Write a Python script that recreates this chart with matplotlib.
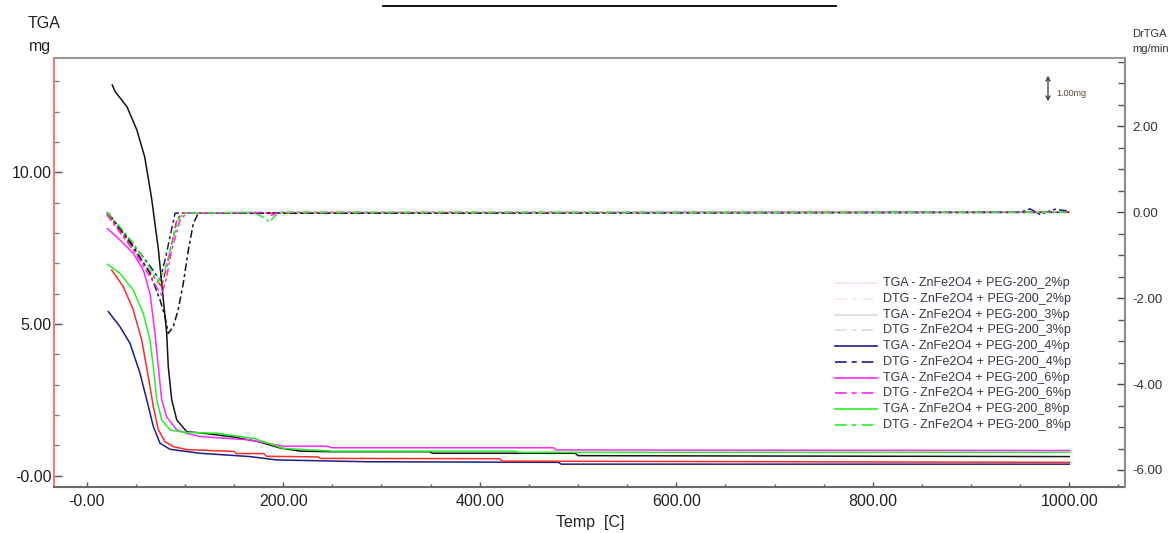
import matplotlib
matplotlib.use("Agg")
import matplotlib.pyplot as plt
from matplotlib.lines import Line2D
from matplotlib.ticker import FixedLocator, MultipleLocator

plt.rcParams['font.family'] = ['Liberation Sans', 'DejaVu Sans']

# ---------------- data (temperature in C, TGA in mg, DTG in mg/min) ----------------
# 3% sample (black)
tga3_t = [26, 29, 41, 51, 59, 66, 73, 78, 81.4, 83, 86.5, 91.6, 101.8, 116, 151, 176, 197, 217, 251, 349, 352, 497, 500, 1000]
tga3_m = [12.88, 12.66, 12.16, 11.40, 10.51, 9.15, 7.44, 5.79, 4.69, 3.59, 2.50, 1.84, 1.45, 1.41, 1.27, 1.11, 0.91, 0.81, 0.79, 0.79, 0.74, 0.74, 0.66, 0.63]
dtg3_t = [22.0, 47.4, 64.4, 74.6, 79.7, 83.0, 88.1, 93.2, 98.3, 103.4, 108.5, 113.6, 1000]
dtg3_v = [-0.02, -0.80, -1.42, -2.04, -2.43, -2.82, -2.66, -2.26, -1.65, -0.88, -0.26, -0.02, 0.0]

# 2% sample (red)
tga2_t = [25.4, 37.2, 47.4, 56.0, 62.7, 67.8, 72.9, 79.7, 88.1, 101.8, 150, 152, 180, 183, 235, 238, 420, 423, 1000]
tga2_m = [6.78, 6.23, 5.46, 4.47, 3.26, 2.27, 1.51, 1.12, 0.96, 0.86, 0.80, 0.73, 0.73, 0.64, 0.62, 0.57, 0.56, 0.48, 0.44]
dtg2_t = [20.4, 47.4, 64.4, 76.3, 83.0, 91.6, 96.7, 1000]
dtg2_v = [-0.03, -0.85, -1.40, -1.73, -1.11, -0.18, -0.02, 0.0]

# 4% sample (navy)
tga4_t = [22.0, 33.9, 44.1, 54.2, 61.1, 67.8, 74.6, 84.8, 115, 166, 193, 285, 480, 483, 1000]
tga4_m = [5.41, 4.91, 4.36, 3.38, 2.50, 1.62, 1.07, 0.87, 0.74, 0.63, 0.52, 0.46, 0.44, 0.38, 0.38]
dtg4_t = [20.4, 47.4, 64.4, 74.6, 79.7, 89.9, 950, 960, 970, 985, 1000]
dtg4_v = [0.0, -0.75, -1.25, -1.58, -1.11, -0.02, 0.0, 0.08, -0.05, 0.07, 0.03]

# 6% sample (magenta)
tga6_t = [21.0, 33.9, 47.4, 57.6, 64.4, 69.5, 72.9, 76.3, 81.4, 91.6, 101.8, 115, 166, 200, 245, 250, 475, 478, 1000]
tga6_m = [8.15, 7.77, 7.33, 6.78, 6.01, 4.69, 3.59, 2.50, 1.94, 1.51, 1.40, 1.29, 1.18, 0.97, 0.97, 0.92, 0.92, 0.85, 0.83]
dtg6_t = [20.4, 47.4, 64.4, 76.3, 81.4, 86.5, 95.0, 101.8, 180, 188, 196, 1000]
dtg6_v = [-0.06, -0.88, -1.50, -1.93, -1.50, -0.88, -0.18, -0.02, 0.0, -0.07, 0.0, 0.0]

# 8% sample (green)
tga8_t = [21.0, 33.9, 47.4, 57.6, 64.4, 67.8, 71.2, 76.3, 84.8, 98.3, 132, 170, 190, 200, 250, 436, 440, 1000]
tga8_m = [6.97, 6.67, 6.12, 5.35, 4.47, 3.59, 2.50, 1.84, 1.51, 1.43, 1.40, 1.23, 1.01, 0.90, 0.81, 0.81, 0.77, 0.77]
dtg8_t = [20.4, 33.9, 47.4, 61.1, 72.9, 79.7, 86.5, 93.2, 98.3, 170, 180, 186, 192, 198, 1000]
dtg8_v = [0.01, -0.34, -0.72, -1.19, -1.62, -1.34, -0.72, -0.18, -0.02, 0.0, -0.12, -0.22, -0.08, 0.0, 0.0]

legend_labels = [
    "TGA - ZnFe2O4 + PEG-200_2%p", "DTG - ZnFe2O4 + PEG-200_2%p",
    "TGA - ZnFe2O4 + PEG-200_3%p", "DTG - ZnFe2O4 + PEG-200_3%p",
    "TGA - ZnFe2O4 + PEG-200_4%p", "DTG - ZnFe2O4 + PEG-200_4%p",
    "TGA - ZnFe2O4 + PEG-200_6%p", "DTG - ZnFe2O4 + PEG-200_6%p",
    "TGA - ZnFe2O4 + PEG-200_8%p", "DTG - ZnFe2O4 + PEG-200_8%p",
]
legend_colors = ["#fbe6e6", "#fbe6e6", "#dcdcdc", "#dcdcdc", "#1c1c8c", "#1c1c8c",
                 "#ff28ff", "#ff28ff", "#28f028", "#28f028"]

x_ticks = [0, 200, 400, 600, 800, 1000]
x_tick_labels = ["-0.00", "200.00", "400.00", "600.00", "800.00", "1000.00"]
y_ticks = [0, 5, 10]
y_tick_labels = ["-0.00", "5.00", "10.00"]
y2_ticks = [2, 0, -2, -4, -6]
y2_tick_labels = ["2.00", "0.00", "-2.00", "-4.00", "-6.00"]

# ---------------- figure ----------------
W, H = 1171, 533
fig = plt.figure(figsize=(W / 100, H / 100), dpi=100)
L, R, T, B = 54.3, 1125.3, 58.3, 486.7
ax = fig.add_axes([L / W, 1 - B / H, (R - L) / W, (B - T) / H])
ax2 = ax.twinx()

RED = "#ff2a2a"
BLK = "#141414"
NAVY = "#1c1c8c"
MAG = "#ff28ff"
GRN = "#28f028"
lw = 1.1
dash = (0, (5, 2, 2, 2))

ax.plot(tga4_t, tga4_m, color=NAVY, lw=lw)
ax.plot(tga2_t, tga2_m, color=RED, lw=lw)
ax.plot(tga3_t, tga3_m, color=BLK, lw=lw)
ax.plot(tga6_t, tga6_m, color=MAG, lw=lw)
ax.plot(tga8_t, tga8_m, color=GRN, lw=lw)

ax2.plot(dtg4_t, dtg4_v, color=NAVY, lw=lw, ls=dash)
ax2.plot(dtg2_t, dtg2_v, color=RED, lw=lw, ls=dash)
ax2.plot(dtg3_t, dtg3_v, color=BLK, lw=lw, ls=dash)
ax2.plot(dtg6_t, dtg6_v, color=MAG, lw=lw, ls=dash)
ax2.plot(dtg8_t, dtg8_v, color=GRN, lw=lw, ls=dash)

ax.set_xlim(-33.0, 1057.0)
ax.set_ylim(-0.363, 13.76)
ax2.set_ylim(-6.389, 3.586)

# ticks
tick_font = 11.5
ax.xaxis.set_major_locator(FixedLocator(x_ticks))
ax.set_xticklabels(x_tick_labels, fontsize=tick_font, color="#222222")
ax.xaxis.set_minor_locator(MultipleLocator(50))
ax.yaxis.set_major_locator(FixedLocator(y_ticks))
ax.set_yticklabels(y_tick_labels, fontsize=tick_font, color="#222222")
ax.yaxis.set_minor_locator(MultipleLocator(1))
ax.tick_params(axis='x', which='major', direction='in', length=3.5, width=1, color="#555555", pad=5)
ax.tick_params(axis='x', which='minor', direction='in', length=2.5, width=1, color="#555555")
ax.tick_params(axis='y', which='major', direction='in', length=6, width=1, color="#555555", pad=2)
ax.tick_params(axis='y', which='minor', direction='in', length=3.5, width=1, color="#777777")

ax2.yaxis.set_major_locator(FixedLocator(y2_ticks))
ax2.set_yticklabels(y2_tick_labels, fontsize=9.5, color="#333333")
ax2.yaxis.set_minor_locator(MultipleLocator(0.5))
ax2.tick_params(axis='y', which='major', direction='in', length=6, width=1, color="#444444", pad=5)
ax2.tick_params(axis='y', which='minor', direction='in', length=5, width=1, color="#555555")

for s in ax.spines.values():
    s.set_linewidth(1.5)
ax.spines['left'].set_color("#ff7474")
ax.spines['top'].set_color("#9a9a9a")
ax.spines['bottom'].set_color("#6a6a6a")
ax.spines['right'].set_visible(False)
ax2.spines['left'].set_visible(False)
ax2.spines['top'].set_visible(False)
ax2.spines['bottom'].set_visible(False)
ax2.spines['right'].set_color("#8a8a8a")
ax2.spines['right'].set_linewidth(1.5)

def fx(x):
    return x / W

def fy(y):
    return 1 - y / H

# axis titles
fig.text(fx(590), fy(523), "Temp  [C]", fontsize=11.5, ha='center', va='center', color="#222222")
fig.text(fx(44), fy(24), "TGA", fontsize=11.5, ha='center', va='center', color="#222222")
fig.text(fx(40), fy(46), "mg", fontsize=11.5, ha='center', va='center', color="#222222")
fig.text(fx(1167), fy(34), "DrTGA", fontsize=8, ha='right', va='center', color="#333333")
fig.text(fx(1169), fy(49), "mg/min", fontsize=8, ha='right', va='center', color="#333333")

# scale indicator
fig.add_artist(matplotlib.patches.FancyArrowPatch((fx(1048), fy(73)), (fx(1048), fy(104)),
               transform=fig.transFigure, arrowstyle='<->', mutation_scale=7, lw=0.9, color="#333333"))
fig.text(fx(1056), fy(93), "1.00mg", fontsize=6.5, ha='left', va='center', color="#5a4a3a")

# top rule
fig.add_artist(Line2D([fx(383), fx(836)], [fy(6), fy(6)], transform=fig.transFigure, color="black", lw=1.3))

# legend (drawn row by row)
for i, (lab, col) in enumerate(zip(legend_labels, legend_colors)):
    y = 283.3 + i * 15.7
    ls = '-' if i % 2 == 0 else (0, (7, 3, 3, 3))
    fig.add_artist(Line2D([fx(835), fx(877)], [fy(y), fy(y)], transform=fig.transFigure,
                          color=col, lw=1.2, ls=ls))
    fig.text(fx(883), fy(y), lab, fontsize=9, ha='left', va='center', color="#3a3446")

fig.savefig("out.png", dpi=100)
